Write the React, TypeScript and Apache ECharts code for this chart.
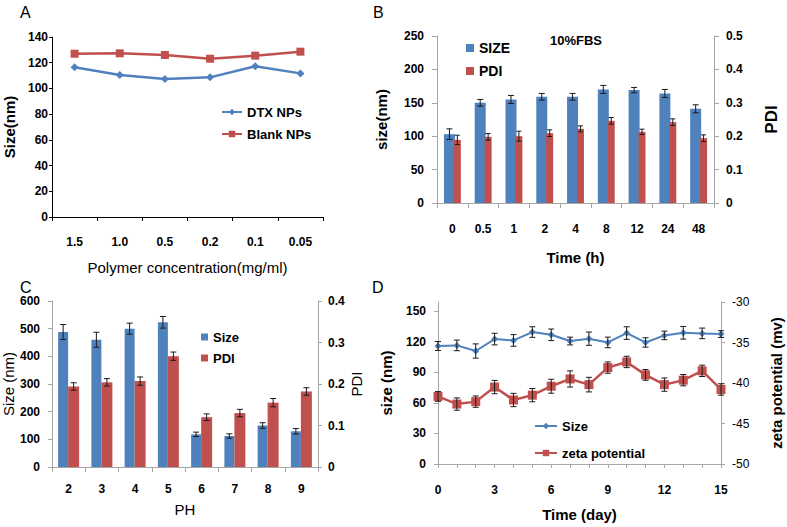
import React, { useEffect, useRef } from "react";
import * as echarts from "echarts";

// Panel A
const catA = ["1.5", "1.0", "0.5", "0.2", "0.1", "0.05"];
const dtxA = [116.4, 110.4, 107.3, 108.6, 117.2, 111.7];
const blankA = [127.0, 127.3, 126.0, 123.1, 125.5, 128.6];

// Panel B
const catB = ["0", "0.5", "1", "2", "4", "8", "12", "24", "48"];
const sizeB = [103, 150, 155, 159, 159, 170, 169, 164, 141];
const sizeErrB = [8, 5, 6, 5, 5, 6, 4, 6, 6];
const pdiB = [0.189, 0.198, 0.2, 0.209, 0.222, 0.246, 0.213, 0.242, 0.194];
const pdiErrB = [0.014, 0.01, 0.015, 0.01, 0.009, 0.01, 0.008, 0.01, 0.01];

// Panel C
const catC = ["2", "3", "4", "5", "6", "7", "8", "9"];
const sizeC = [488, 460, 500, 523, 118, 112, 150, 129];
const sizeErrC = [27, 27, 20, 21, 8, 8, 10, 10];
const pdiC = [0.194, 0.204, 0.207, 0.267, 0.12, 0.13, 0.155, 0.182];
const pdiErrC = [0.009, 0.009, 0.01, 0.01, 0.008, 0.009, 0.01, 0.009];

// Panel D
const daysD = ["0", "1", "2", "3", "4", "5", "6", "7", "8", "9", "10", "11", "12", "13", "14", "15"];
const sizeD = [115.8, 116.4, 110.9, 122.6, 121.3, 129.5, 126.8, 120.7, 123.0, 119.3, 128.5, 119.3, 126.2, 128.8, 128.2, 127.5];
const sizeErrD = [4.4, 5.2, 7.0, 5.7, 5.7, 5.2, 5.7, 3.8, 6.5, 5.2, 6.2, 4.6, 4.2, 6.2, 5.2, 3.3];
const zetaD = [-41.66, -42.6, -42.3, -40.5, -42.1, -41.5, -40.4, -39.5, -40.2, -38.1, -37.4, -39.0, -40.2, -39.65, -38.5, -40.8];
const zetaErrD = [0.6, 0.76, 0.7, 0.82, 0.82, 0.82, 0.86, 1.0, 0.9, 0.7, 0.7, 0.66, 0.82, 0.7, 0.7, 0.7];
const sizeTicksD = [0, 30, 60, 90, 120, 150];

const FONT = "'Liberation Sans', Arial, sans-serif";
const BLUE = "#4F81BD";
const RED = "#C0504D";
const GRAY = "#a6a6a6";
const BLACK = "#000";

const legendNames: Record<string, string> = {
  "DTX NPs": "DTX NPs",
  "Blank NPs": "Blank NPs",
  SIZE: "SIZE",
  PDI_B: "PDI",
  Size_C: "Size",
  PDI_C: "PDI",
  Size_D: "Size",
  "zeta potential": "zeta potential",
};

function errData(vals: number[], errs: number[]) {
  return vals.map((v, i) => [i, v - errs[i], v + errs[i]]);
}

function errRender(offset: number, cap: number) {
  return (params: any, api: any) => {
    const x = api.value(0);
    const top = api.coord([x, api.value(2)]);
    const bot = api.coord([x, api.value(1)]);
    const cx = top[0] + offset;
    const style = { stroke: "#1a1a1a", lineWidth: 1 };
    return {
      type: "group",
      children: [
        { type: "line", shape: { x1: cx, y1: top[1], x2: cx, y2: bot[1] }, style },
        { type: "line", shape: { x1: cx - cap, y1: top[1], x2: cx + cap, y2: top[1] }, style },
        { type: "line", shape: { x1: cx - cap, y1: bot[1], x2: cx + cap, y2: bot[1] }, style },
      ],
    };
  };
}

function barOffsets(w1: number, w2: number, gap: number) {
  const sum = w1 * (1 + gap) + w2;
  const start = -sum / 2;
  return [start + w1 / 2, start + w1 * (1 + gap) + w2 / 2];
}

const tickLabel = (margin: number, bold = true) => ({
  margin,
  color: BLACK,
  fontFamily: FONT,
  fontSize: 12,
  fontWeight: bold ? "bold" : "normal",
});

const nameStyle = (size: number, bold: boolean) => ({
  color: BLACK,
  fontFamily: FONT,
  fontSize: size,
  fontWeight: bold ? "bold" : "normal",
});

export default function App() {
  const ref = useRef<HTMLDivElement>(null);
  useEffect(() => {
    document.body.style.margin = "0";
    if (!ref.current) return;
    const chart = echarts.init(ref.current, undefined, { renderer: "svg" });

    const bW1 = 11, bW2 = 7, bGap = -0.1;
    const offB = barOffsets(bW1, bW2, bGap);
    const cW1 = 10, cW2 = 11, cGap = 0;
    const offC = barOffsets(cW1, cW2, cGap);

    const grayLine = { show: true, lineStyle: { color: GRAY, width: 1 } };
    const blackLine = { show: true, lineStyle: { color: BLACK, width: 1 } };

    const option: any = {
      animation: false,
      backgroundColor: "#fff",
      textStyle: { fontFamily: FONT },
      grid: [
        { left: 52, top: 37, width: 271, height: 180 },
        { left: 437, top: 36, width: 277, height: 167 },
        { left: 52, top: 301, width: 266, height: 166 },
        { left: 438, top: 302, width: 283, height: 162 },
      ],
      xAxis: [
        {
          type: "category", gridIndex: 0, data: catA,
          axisLine: blackLine,
          axisTick: { show: true, length: 4, lineStyle: { color: BLACK } },
          axisLabel: tickLabel(19),
          name: "Polymer concentration(mg/ml)", nameLocation: "middle", nameGap: 43,
          nameTextStyle: nameStyle(15, false),
        },
        {
          type: "category", gridIndex: 1, data: catB,
          axisLine: grayLine,
          axisTick: { show: true, length: 5, lineStyle: { color: GRAY } },
          axisLabel: tickLabel(20),
          name: "Time (h)", nameLocation: "middle", nameGap: 47,
          nameTextStyle: nameStyle(15, true),
        },
        {
          type: "category", gridIndex: 2, data: catC,
          axisLine: grayLine,
          axisTick: { show: true, length: 5, lineStyle: { color: GRAY } },
          axisLabel: tickLabel(16),
          name: "PH", nameLocation: "middle", nameGap: 35,
          nameTextStyle: nameStyle(15, false),
        },
        {
          type: "category", gridIndex: 3, data: daysD, boundaryGap: false,
          axisLine: grayLine,
          axisTick: { show: true, length: 4, interval: 0, lineStyle: { color: GRAY } },
          axisLabel: { ...tickLabel(20), interval: 2 },
          name: "Time (day)", nameLocation: "middle", nameGap: 43,
          nameTextStyle: nameStyle(15, true),
        },
      ],
      yAxis: [
        {
          type: "value", gridIndex: 0, min: 0, max: 140, interval: 20,
          axisLine: blackLine,
          axisTick: { show: true, length: 3, lineStyle: { color: BLACK } },
          splitLine: { show: false },
          axisLabel: tickLabel(4),
          name: "Size(nm)", nameLocation: "middle", nameGap: 35,
          nameTextStyle: nameStyle(15, true),
        },
        {
          type: "value", gridIndex: 1, min: 0, max: 250, interval: 50,
          axisLine: grayLine,
          axisTick: { show: true, length: 5, lineStyle: { color: GRAY } },
          splitLine: { show: false },
          axisLabel: tickLabel(13),
          name: "size(nm)", nameLocation: "middle", nameGap: 48,
          nameTextStyle: nameStyle(15, true),
        },
        {
          type: "value", gridIndex: 1, position: "right", min: 0, max: 0.5, interval: 0.1,
          axisLine: grayLine,
          axisTick: { show: true, length: 5, lineStyle: { color: GRAY } },
          splitLine: { show: false },
          axisLabel: tickLabel(12),
          name: "PDI", nameLocation: "middle", nameGap: 49,
          nameTextStyle: nameStyle(17, true),
        },
        {
          type: "value", gridIndex: 2, min: 0, max: 600, interval: 100,
          axisLine: grayLine,
          axisTick: { show: true, length: 4, lineStyle: { color: GRAY } },
          splitLine: { show: false },
          axisLabel: tickLabel(12),
          name: "Size (nm)", nameLocation: "middle", nameGap: 35,
          nameTextStyle: nameStyle(15, false),
        },
        {
          type: "value", gridIndex: 2, position: "right", min: 0, max: 0.4, interval: 0.1,
          axisLine: grayLine,
          axisTick: { show: true, length: 4, lineStyle: { color: GRAY } },
          splitLine: { show: false },
          axisLabel: tickLabel(10),
          name: "PDI", nameLocation: "middle", nameGap: 28,
          nameTextStyle: nameStyle(15, false),
        },
        {
          type: "value", gridIndex: 3, min: 0, max: 159,
          axisLine: grayLine,
          axisTick: { show: true, length: 4, customValues: sizeTicksD, lineStyle: { color: GRAY } },
          splitLine: { show: false },
          axisLabel: { ...tickLabel(12), customValues: sizeTicksD },
          name: "size (nm)", nameLocation: "middle", nameGap: 44,
          nameTextStyle: nameStyle(15, true),
        },
        {
          type: "value", gridIndex: 3, position: "right", min: -50, max: -30, interval: 5,
          axisLine: grayLine,
          axisTick: { show: true, length: 4, lineStyle: { color: GRAY } },
          splitLine: { show: false },
          axisLabel: tickLabel(11, false),
          name: "zeta potential (mv)", nameLocation: "middle", nameGap: 48,
          nameTextStyle: nameStyle(15, true),
        },
      ],
      legend: [
        {
          left: 216, top: 100, orient: "vertical", itemGap: 8, itemWidth: 20, itemHeight: 8,
          data: ["DTX NPs", "Blank NPs"], formatter: (n: string) => legendNames[n],
          textStyle: { fontFamily: FONT, fontSize: 13, fontWeight: "bold", color: BLACK, lineHeight: 14 },
        },
        {
          left: 461, top: 36, orient: "vertical", itemGap: 9, itemWidth: 8, itemHeight: 8, icon: "rect",
          data: ["SIZE", "PDI_B"], formatter: (n: string) => legendNames[n],
          textStyle: { fontFamily: FONT, fontSize: 14, fontWeight: "bold", color: BLACK, lineHeight: 14 },
        },
        {
          left: 196, top: 325, orient: "vertical", itemGap: 7, itemWidth: 7, itemHeight: 7, icon: "rect",
          data: ["Size_C", "PDI_C"], formatter: (n: string) => legendNames[n],
          textStyle: { fontFamily: FONT, fontSize: 13, fontWeight: "bold", color: BLACK, lineHeight: 14 },
        },
        {
          left: 529, top: 414, orient: "vertical", itemGap: 13, itemWidth: 22, itemHeight: 8,
          data: ["Size_D", "zeta potential"], formatter: (n: string) => legendNames[n],
          textStyle: { fontFamily: FONT, fontSize: 13, fontWeight: "bold", color: BLACK, lineHeight: 14 },
        },
      ],
      graphic: [
        { type: "text", x: 20, y: 4, style: { text: "A", fontFamily: FONT, fontSize: 16, fill: BLACK, verticalAlign: "top" } },
        { type: "text", x: 373, y: 4, style: { text: "B", fontFamily: FONT, fontSize: 16, fill: BLACK, verticalAlign: "top" } },
        { type: "text", x: 20, y: 279, style: { text: "C", fontFamily: FONT, fontSize: 16, fill: BLACK, verticalAlign: "top" } },
        { type: "text", x: 372, y: 279, style: { text: "D", fontFamily: FONT, fontSize: 16, fill: BLACK, verticalAlign: "top" } },
        { type: "text", x: 550, y: 34, style: { text: "10%FBS", fontFamily: FONT, fontSize: 13, fontWeight: "bold", fill: BLACK, verticalAlign: "top" } },
      ],
      series: [
        // A
        {
          name: "DTX NPs", type: "line", xAxisIndex: 0, yAxisIndex: 0, data: dtxA,
          symbol: "diamond", symbolSize: 8, lineStyle: { color: BLUE, width: 2.5 }, itemStyle: { color: BLUE },
        },
        {
          name: "Blank NPs", type: "line", xAxisIndex: 0, yAxisIndex: 0, data: blankA,
          symbol: "rect", symbolSize: 8, lineStyle: { color: RED, width: 2.5 }, itemStyle: { color: RED },
        },
        // B
        {
          name: "SIZE", type: "bar", xAxisIndex: 1, yAxisIndex: 1, data: sizeB,
          barWidth: bW1, barGap: bGap * 100 + "%", itemStyle: { color: BLUE },
        },
        {
          name: "PDI_B", type: "bar", xAxisIndex: 1, yAxisIndex: 2, data: pdiB,
          barWidth: bW2, barGap: bGap * 100 + "%", itemStyle: { color: RED },
        },
        {
          type: "custom", xAxisIndex: 1, yAxisIndex: 1, data: errData(sizeB, sizeErrB),
          encode: { x: 0, y: [1, 2] }, renderItem: errRender(offB[0], 3), z: 10, silent: true,
        },
        {
          type: "custom", xAxisIndex: 1, yAxisIndex: 2, data: errData(pdiB, pdiErrB),
          encode: { x: 0, y: [1, 2] }, renderItem: errRender(offB[1], 2.5), z: 10, silent: true,
        },
        // C
        {
          name: "Size_C", type: "bar", xAxisIndex: 2, yAxisIndex: 3, data: sizeC,
          barWidth: cW1, barGap: cGap * 100 + "%", itemStyle: { color: BLUE },
        },
        {
          name: "PDI_C", type: "bar", xAxisIndex: 2, yAxisIndex: 4, data: pdiC,
          barWidth: cW2, barGap: cGap * 100 + "%", itemStyle: { color: RED },
        },
        {
          type: "custom", xAxisIndex: 2, yAxisIndex: 3, data: errData(sizeC, sizeErrC),
          encode: { x: 0, y: [1, 2] }, renderItem: errRender(offC[0], 3), z: 10, silent: true,
        },
        {
          type: "custom", xAxisIndex: 2, yAxisIndex: 4, data: errData(pdiC, pdiErrC),
          encode: { x: 0, y: [1, 2] }, renderItem: errRender(offC[1], 3), z: 10, silent: true,
        },
        // D
        {
          name: "Size_D", type: "line", xAxisIndex: 3, yAxisIndex: 5, data: sizeD,
          symbol: "diamond", symbolSize: 7, lineStyle: { color: BLUE, width: 2 }, itemStyle: { color: BLUE },
        },
        {
          name: "zeta potential", type: "line", xAxisIndex: 3, yAxisIndex: 6, data: zetaD,
          symbol: "rect", symbolSize: 9, lineStyle: { color: RED, width: 2.5 }, itemStyle: { color: RED },
        },
        {
          type: "custom", xAxisIndex: 3, yAxisIndex: 5, data: errData(sizeD, sizeErrD),
          encode: { x: 0, y: [1, 2] }, renderItem: errRender(0, 3), z: 10, silent: true,
        },
        {
          type: "custom", xAxisIndex: 3, yAxisIndex: 6, data: errData(zetaD, zetaErrD),
          encode: { x: 0, y: [1, 2] }, renderItem: errRender(0, 3), z: 10, silent: true,
        },
      ],
    };
    chart.setOption(option);
    return () => chart.dispose();
  }, []);
  return <div ref={ref} style={{ width: 787, height: 527 }} />;
}
